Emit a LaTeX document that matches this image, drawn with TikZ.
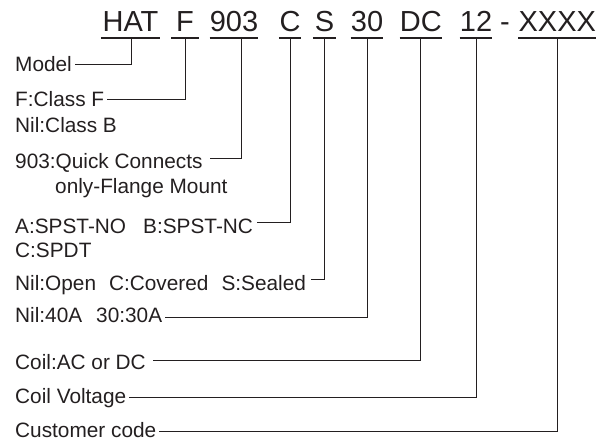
\documentclass[tikz,border=0pt]{standalone}
\usepackage{fontspec}
\setmainfont{Liberation Sans}
\definecolor{ink}{RGB}{35,31,32}
\begin{document}
\begin{tikzpicture}[x=1pt,y=-1pt,
  code/.style={font=\fontsize{29}{29}\selectfont, inner sep=0pt, anchor=base, text=ink},
  lbl/.style={font=\fontsize{20.8}{20.8}\selectfont, inner sep=0pt, anchor=base west, text=ink},
  uline/.style={line width=1.3pt, draw=ink},
  conn/.style={line width=1pt, draw=ink}]
\useasboundingbox (0,0) rectangle (607,440);
% code parts
\node[code, minimum width=59pt] (hat) at (130.5,31) {HAT};
\node[code, minimum width=27pt] (f) at (185,31) {F};
\node[code, minimum width=46pt] (n903) at (234,31) {903};
\node[code, minimum width=22pt] (c) at (290,31) {C};
\node[code, minimum width=23pt] (s) at (324.5,31) {S};
\node[code, minimum width=28pt] (n30) at (367,31) {30};
\node[code, minimum width=40.5pt] (dc) at (420.75,31) {DC};
\node[code, minimum width=31pt] (n12) at (476,31) {12};
\node[code] (dash) at (505,31) {-};
\node[code, minimum width=77.4pt] (xxxx) at (557.3,31) {XXXX};
\foreach \n in {hat,f,n903,c,s,n30,dc,n12,xxxx}
  \draw[uline] ([yshift=-7pt]\n.base west) -- ([yshift=-7pt]\n.base east);
% labels
\node[lbl] (model) at (15,71) {Model};
\node[lbl] (clsf) at (15,106) {F:Class F};
\node[lbl] (clsb) at (15,132) {Nil:Class B};
\node[lbl] (qc) at (15,168) {903:Quick Connects};
\node[lbl] (fl) at (55,193) {only-Flange Mount};
\node[lbl] (sp) at (15,233) {A:SPST-NO\hspace{17pt}B:SPST-NC};
\node[lbl] (spdt) at (15,257) {C:SPDT};
\node[lbl] (cov) at (15,290) {Nil:Open\hspace{13pt}C:Covered\hspace{13pt}S:Sealed};
\node[lbl] (a40) at (15,322) {Nil:40A\hspace{14pt}30:30A};
\node[lbl] (coil) at (15,369) {Coil:AC or DC};
\node[lbl] (cv) at (15,403) {Coil Voltage};
\node[lbl] (cust) at (15,437) {Customer code};
% connectors
\draw[conn] ([xshift=1pt,yshift=-7pt]hat.base) |- ([xshift=3pt,yshift=7pt]model.base east);
\draw[conn] ([yshift=-7pt]f.base) |- ([xshift=3pt,yshift=7pt]clsf.base east);
\draw[conn] ([xshift=7pt,yshift=-7pt]n903.base) |- ([xshift=7pt,yshift=10pt]qc.base east);
\draw[conn] ([yshift=-7pt]c.base) |- ([xshift=4pt,yshift=11pt]sp.base east);
\draw[conn] ([yshift=-7pt]s.base) |- ([xshift=5pt,yshift=11pt]cov.base east);
\draw[conn] ([yshift=-7pt]n30.base) |- ([xshift=3pt,yshift=5pt]a40.base east);
\draw[conn] ([yshift=-7pt]dc.base) |- ([xshift=7pt,yshift=9pt]coil.base east);
\draw[conn] ([yshift=-7pt]n12.base) |- ([xshift=3pt,yshift=6pt]cv.base east);
\draw[conn] ([yshift=-7pt]xxxx.base) |- ([xshift=3pt,yshift=6pt]cust.base east);
\end{tikzpicture}
\end{document}
